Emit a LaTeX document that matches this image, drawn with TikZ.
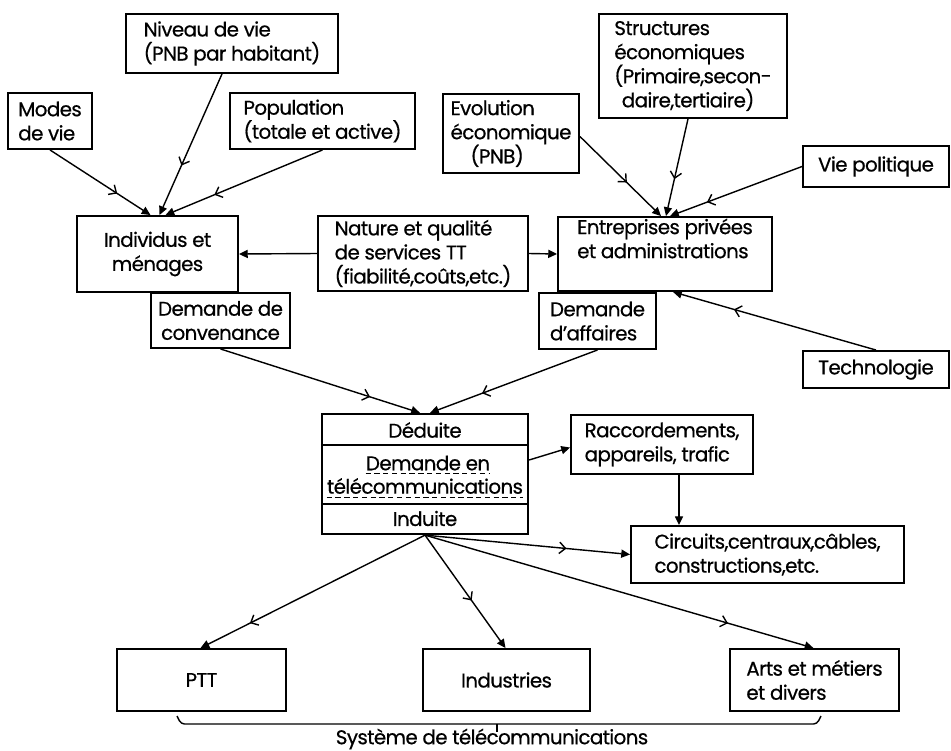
\documentclass[tikz,border=0pt]{standalone}
\usepackage{fontspec}
\setmainfont[LetterSpace=-3,FakeBold=0.6]{Poppins}
\usetikzlibrary{arrows.meta,calc,decorations.markings}
\tikzset{
  box/.style={draw, line width=1.1pt, inner sep=0pt, align=left, font=\fontsize{11.3}{13.7}\selectfont},
  lbl/.style={inner sep=0pt, font=\fontsize{11.3}{13.7}\selectfont},
  lnk/.style={line width=0.8pt, -{Triangle[length=5pt,width=4.6pt]}},
  via/.style={postaction={decorate}, decoration={markings, mark=at position #1 with {\arrow{Straight Barb[length=3.5pt,width=6.5pt,line width=0.8pt]}}}},
  ul/.style={line width=0.6pt, dash pattern=on 3pt off 2pt},
}

\begin{document}
\begin{tikzpicture}[x=0.02cm, y=-0.02cm]
  \useasboundingbox (0,0) rectangle (951,751);

  % households side
  \node[box, minimum width=1.68cm, minimum height=1.12cm] (modes) at (50,121) {Modes\\de vie};
  \node[box, minimum width=4.24cm, minimum height=1.18cm] (niveau) at (232,43.5) {Niveau de vie\\(PNB par habitant)};
  \node[box, minimum width=3.70cm, minimum height=1.12cm] (popu) at (322.5,121) {Population\\(totale et active)};
  \node[box, align=center, minimum width=3.22cm, minimum height=1.52cm] (indiv) at (157.5,254) {Individus et\\ménages};
  \node[box, align=center, minimum width=2.78cm, minimum height=1.10cm] (conv) at (220.5,320.5) {Demande de\\convenance};

  % services
  \node[box, minimum width=4.20cm, minimum height=1.50cm] (nature) at (423,253.5) {Nature et qualité\\de services TT\\(fiabilité,coûts,etc.)};

  % business side
  \node[box, minimum width=2.72cm, minimum height=1.58cm] (evol) at (511,133.5) {Evolution\\économique\\\hspace*{0.4cm}(PNB)};
  \node[box, minimum width=3.76cm, minimum height=2.08cm] (struct) at (693,66) {Structures\\économiques\\(Primaire,secon-\\\hspace*{0.15cm}daire,tertiaire)};
  \node[box, minimum width=2.92cm, minimum height=0.82cm] (vie) at (876,166.5) {Vie politique};
  \node[box, minimum width=4.28cm, minimum height=1.48cm] (entr) at (665,254) {Entreprises privées\\et administrations\\\strut};
  \node[box, minimum width=2.34cm, minimum height=1.12cm] (aff) at (597.5,321) {Demande\\d'affaires};
  \node[box, minimum width=2.92cm, minimum height=0.74cm] (techno) at (876,369.5) {Technologie};

  % demand
  \node[box, line width=1.3pt, minimum width=4.12cm, minimum height=2.40cm] (dem) at (425,474) {};
  \draw[line width=1.1pt] ($(dem.north west)+(0,32)$) -- ($(dem.north east)+(0,32)$);
  \draw[line width=1.1pt] ($(dem.south west)+(0,-31)$) -- ($(dem.south east)+(0,-31)$);
  \node[lbl] (ded) at (425,430) {Déduite};
  \node[lbl] (l1) at (428,463) {Demande en};
  \node[lbl] (l2) at (425,486) {télécommunications};
  \node[lbl] (indt) at (425,518.5) {Induite};
  \draw[ul] ([yshift=-2pt]l1.base west) -- ([yshift=-2pt]l1.base east);
  \draw[ul] ([yshift=-2pt]l2.base west) -- ([yshift=-2pt]l2.base east);

  \node[box, minimum width=3.64cm, minimum height=1.18cm] (racc) at (662,444.5) {Raccordements,\\appareils, trafic};
  \node[box, minimum width=5.46cm, minimum height=1.14cm] (circ) at (767.5,554.5) {Circuits,centraux,câbles,\\constructions,etc.};

  % system
  \node[box, minimum width=3.38cm, minimum height=1.24cm] (ptt) at (201.5,680) {PTT};
  \node[box, minimum width=3.34cm, minimum height=1.24cm] (indus) at (506.5,680) {Industries};
  \node[box, minimum width=3.38cm, minimum height=1.24cm] (arts) at (814.5,680) {Arts et métiers\\et divers};

  % links
  \draw[lnk, via=0.67] (modes.south) -- ($(indiv.north)+(-7,0)$);
  \draw[lnk, via=0.65] ($(niveau.south)+(-10,0)$) -- ($(indiv.north)+(2,0)$);
  \draw[lnk, via=0.69] (popu.south) -- ($(indiv.north)+(8,0)$);
  \draw[lnk] (nature.west) -- (indiv.east);
  \draw[lnk] (nature.east) -- (entr.west);
  \draw[lnk, via=0.58] ($(evol.east)+(0,3)$) -- ($(entr.north)+(-4,0)$);
  \draw[lnk, via=0.62] ($(struct.south)+(-5,0)$) -- ($(entr.north)+(1,0)$);
  \draw[lnk, via=0.72] (vie.west) -- ($(entr.north)+(5,0)$);
  \draw[lnk, via=0.70] (techno.north) -- ($(entr.south)+(8,0)$);
  \draw[lnk, via=0.75] (conv.south) -- ($(dem.north)+(-5,0)$);
  \draw[lnk, via=0.69] (aff.south) -- ($(dem.north)+(5,0)$);
  \draw[lnk] ($(dem.east)+(0,-14)$) -- ($(racc.west)+(0,3)$);
  \coordinate (rs) at ($(racc.south)+(17,0)$);
  \draw[lnk] (rs) -- (rs |- circ.north);
  \draw[lnk, via=0.69] (dem.south) -- (circ.west);
  \draw[lnk, via=0.78] (dem.south) -- ($(ptt.north)+(-1,0)$);
  \draw[lnk, via=0.58] (dem.south) -- ($(indus.north)+(-1,0)$);
  \draw[lnk, via=0.78] (dem.south) -- ($(arts.north)+(-1,0)$);

  % brace
  \draw[line width=0.8pt, rounded corners=2pt] (177,716) -- (181,724) -- (817,724) -- (821,716);
  \draw[line width=0.8pt] (497,724) -- (497,732);
  \node[lbl] (sys) at (492,739) {Système de télécommunications};
\end{tikzpicture}
\end{document}
